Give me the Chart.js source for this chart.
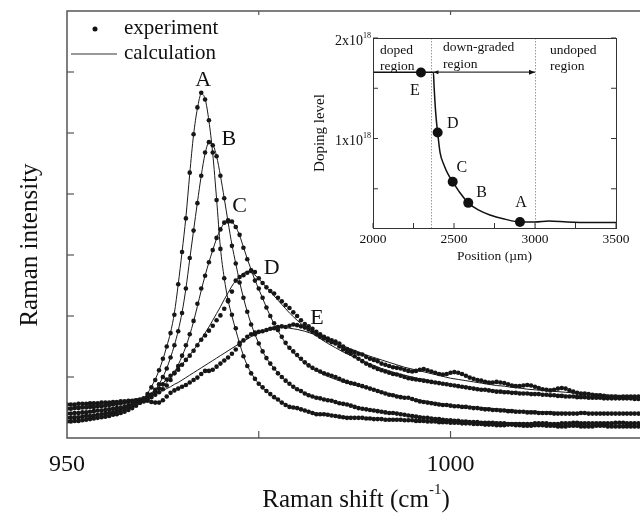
<!DOCTYPE html>
<html>
<head>
<meta charset="utf-8">
<script src="https://cdn.jsdelivr.net/npm/chart.js@4"></script>
<style>
  html, body { margin: 0; padding: 0; background: #fff; overflow: hidden; }
  #wrap { position: relative; width: 644px; height: 515px; }
  #mainChart { position: absolute; left: 0; top: 0; }
  #insetChart { position: absolute; left: 300px; top: 20px; }
</style>
</head>
<body>
<div id="wrap">
  <canvas id="mainChart" width="644" height="515"></canvas>
  <canvas id="insetChart" width="340" height="250"></canvas>
</div>
<script>
// ===== Main spectra: Raman shift (cm-1) vs intensity =====
const shiftFine = [
  950,950.5,951,951.5,952,952.5,953,953.5,954,954.5,
  955,955.5,956,956.5,957,957.5,958,958.5,959,959.5,
  960,960.5,961,961.5,962,962.5,963,963.5,964,964.5,
  965,965.5,966,966.5,967,967.5,968,968.5,969,969.5,
  970,970.5,971,971.5,972,972.5,973,973.5,974,974.5,
  975,975.5,976,976.5,977,977.5,978,978.5,979,979.5,
  980,980.5,981,981.5,982,982.5,983,983.5,984,984.5,
  985,985.5,986,986.5,987,987.5,988,988.5,989,989.5,
  990,990.5,991,991.5,992,992.5,993,993.5,994,994.5,
  995,995.5,996,996.5,997,997.5,998,998.5,999,999.5,
  1000,1000.5,1001,1001.5,1002,1002.5,1003,1003.5,1004,1004.5,
  1005,1005.5,1006,1006.5,1007,1007.5,1008,1008.5,1009,1009.5,
  1010,1010.5,1011,1011.5,1012,1012.5,1013,1013.5,1014,1014.5,
  1015,1015.5,1016,1016.5,1017,1017.5,1018,1018.5,1019,1019.5,
  1020,1020.5,1021,1021.5,1022,1022.5,1023,1023.5,1024,1024.5,
  1025
];

const expA = [
  0.27,0.27,0.28,0.28,0.29,0.30,0.31,0.32,0.33,0.34,
  0.35,0.36,0.38,0.39,0.41,0.43,0.46,0.49,0.53,0.58,
  0.64,0.72,0.83,0.95,1.11,1.30,1.50,1.72,2.02,2.52,
  3.05,3.60,4.35,4.98,5.42,5.66,5.55,5.21,4.68,3.90,
  3.10,2.62,2.26,2.02,1.80,1.56,1.34,1.18,1.06,0.97,
  0.89,0.83,0.77,0.72,0.67,0.63,0.58,0.54,0.51,0.50,
  0.49,0.47,0.45,0.43,0.41,0.39,0.39,0.39,0.38,0.37,
  0.36,0.35,0.34,0.33,0.33,0.33,0.33,0.33,0.32,0.32,
  0.31,0.31,0.31,0.30,0.30,0.30,0.30,0.30,0.29,0.29,
  0.29,0.28,0.28,0.28,0.27,0.27,0.27,0.26,0.26,0.26,
  0.25,0.25,0.25,0.24,0.24,0.24,0.23,0.23,0.23,0.22,
  0.22,0.22,0.21,0.21,0.21,0.22,0.22,0.21,0.21,0.20,
  0.20,0.20,0.21,0.21,0.21,0.20,0.20,0.20,0.19,0.19,
  0.19,0.20,0.20,0.20,0.19,0.19,0.19,0.19,0.20,0.20,
  0.20,0.19,0.19,0.19,0.19,0.19,0.19,0.19,0.19,0.19,
  0.19
];
const expB = [
  0.33,0.33,0.34,0.34,0.35,0.36,0.36,0.37,0.38,0.39,
  0.40,0.41,0.42,0.44,0.46,0.48,0.50,0.53,0.55,0.58,
  0.61,0.66,0.71,0.79,0.88,1.00,1.14,1.32,1.52,1.75,
  2.05,2.45,2.95,3.40,3.85,4.30,4.68,4.85,4.80,4.62,
  4.30,3.93,3.55,3.15,2.86,2.55,2.30,2.07,1.86,1.70,
  1.55,1.42,1.31,1.22,1.14,1.06,1.00,0.94,0.89,0.84,
  0.80,0.77,0.73,0.70,0.68,0.66,0.65,0.63,0.62,0.61,
  0.59,0.57,0.56,0.55,0.53,0.51,0.49,0.48,0.47,0.46,
  0.45,0.44,0.43,0.42,0.41,0.41,0.40,0.39,0.38,0.37,
  0.36,0.35,0.34,0.33,0.33,0.32,0.31,0.31,0.30,0.29,
  0.29,0.28,0.28,0.27,0.27,0.26,0.26,0.26,0.25,0.25,
  0.25,0.25,0.24,0.24,0.24,0.23,0.23,0.23,0.23,0.23,
  0.23,0.23,0.24,0.24,0.24,0.24,0.23,0.23,0.23,0.24,
  0.24,0.24,0.25,0.25,0.24,0.24,0.24,0.24,0.24,0.24,
  0.24,0.24,0.24,0.25,0.25,0.25,0.24,0.24,0.24,0.24,
  0.24
];
const expC = [
  0.40,0.40,0.41,0.41,0.42,0.42,0.43,0.44,0.45,0.45,
  0.46,0.47,0.48,0.49,0.50,0.51,0.53,0.54,0.56,0.58,
  0.60,0.63,0.67,0.71,0.75,0.80,0.86,0.95,1.06,1.18,
  1.35,1.52,1.70,1.92,2.20,2.45,2.66,2.88,3.08,3.28,
  3.42,3.53,3.57,3.55,3.46,3.33,3.12,2.93,2.74,2.58,
  2.45,2.30,2.14,2.00,1.88,1.77,1.66,1.56,1.48,1.42,
  1.36,1.30,1.24,1.19,1.15,1.12,1.09,1.06,1.04,1.02,
  1.00,0.97,0.94,0.92,0.90,0.89,0.87,0.85,0.83,0.81,
  0.79,0.77,0.75,0.73,0.71,0.70,0.68,0.67,0.66,0.66,
  0.64,0.62,0.60,0.59,0.58,0.57,0.56,0.55,0.54,0.54,
  0.53,0.52,0.52,0.51,0.51,0.50,0.49,0.49,0.48,0.47,
  0.47,0.46,0.46,0.45,0.45,0.44,0.44,0.43,0.43,0.43,
  0.42,0.42,0.42,0.41,0.41,0.41,0.41,0.40,0.40,0.40,
  0.40,0.40,0.40,0.40,0.41,0.41,0.40,0.40,0.40,0.40,
  0.40,0.40,0.40,0.40,0.40,0.40,0.40,0.40,0.40,0.40,
  0.40
];
const expD = [
  0.48,0.48,0.49,0.49,0.50,0.50,0.51,0.51,0.52,0.52,
  0.53,0.54,0.55,0.56,0.57,0.58,0.59,0.60,0.61,0.63,
  0.65,0.68,0.71,0.75,0.81,0.88,0.96,1.02,1.07,1.12,
  1.20,1.28,1.35,1.43,1.52,1.61,1.68,1.76,1.84,1.93,
  2.01,2.12,2.24,2.40,2.58,2.64,2.67,2.71,2.75,2.72,
  2.62,2.54,2.47,2.41,2.37,2.30,2.24,2.18,2.13,2.06,
  2.00,1.93,1.87,1.83,1.79,1.74,1.70,1.66,1.60,1.57,
  1.55,1.50,1.45,1.41,1.38,1.34,1.30,1.26,1.22,1.19,
  1.16,1.13,1.11,1.09,1.07,1.05,1.04,1.02,1.00,0.98,
  0.97,0.96,0.95,0.94,0.93,0.92,0.91,0.90,0.89,0.88,
  0.87,0.86,0.85,0.84,0.83,0.82,0.81,0.80,0.79,0.79,
  0.78,0.77,0.76,0.76,0.75,0.75,0.74,0.74,0.73,0.73,
  0.73,0.72,0.72,0.72,0.71,0.71,0.70,0.70,0.69,0.69,
  0.68,0.68,0.68,0.67,0.67,0.67,0.66,0.66,0.66,0.66,
  0.65,0.65,0.65,0.65,0.65,0.65,0.65,0.65,0.64,0.64,
  0.64
];
const expE = [
  0.55,0.55,0.55,0.56,0.56,0.56,0.57,0.57,0.57,0.58,
  0.58,0.58,0.59,0.59,0.60,0.60,0.61,0.61,0.62,0.62,
  0.62,0.61,0.59,0.58,0.58,0.62,0.68,0.74,0.78,0.81,
  0.84,0.87,0.91,0.95,0.99,1.05,1.10,1.10,1.12,1.17,
  1.22,1.27,1.32,1.38,1.45,1.53,1.60,1.66,1.70,1.73,
  1.74,1.75,1.77,1.79,1.80,1.82,1.83,1.82,1.84,1.86,
  1.85,1.83,1.81,1.78,1.74,1.70,1.66,1.63,1.63,1.60,
  1.58,1.55,1.50,1.46,1.43,1.41,1.38,1.37,1.33,1.30,
  1.28,1.26,1.22,1.20,1.18,1.16,1.15,1.14,1.12,1.10,
  1.09,1.10,1.12,1.13,1.11,1.09,1.07,1.05,1.04,1.05,
  1.07,1.08,1.07,1.05,1.02,0.99,0.97,0.95,0.94,0.92,
  0.91,0.91,0.92,0.91,0.90,0.88,0.86,0.85,0.85,0.86,
  0.87,0.86,0.84,0.82,0.80,0.79,0.78,0.79,0.81,0.82,
  0.81,0.78,0.76,0.74,0.73,0.73,0.72,0.71,0.70,0.70,
  0.69,0.68,0.68,0.68,0.67,0.68,0.68,0.68,0.68,0.68,
  0.68
];

// calculation curves: coarser grid, finer around the peaks
const calcShift = [
  950,951,952,953,954,955,956,957,958,959,960,
  960.5,961,961.5,962,962.5,963,963.5,964,964.5,965,
  965.5,966,966.5,967,967.5,968,968.5,969,969.5,970,
  970.5,971,971.5,972,972.5,973,973.5,974,974.5,975,
  975.5,976,976.5,977,977.5,978,978.5,979,979.5,980,
  981,982,983,984,985,986,987,988,989,990,
  991,992,993,994,995,996,997,998,999,1000,
  1001,1002,1003,1004,1005,1006,1007,1008,1009,1010,
  1011,1012,1013,1014,1015,1016,1017,1018,1019,1020,
  1021,1022,1023,1024,1025
];
const calcA = [
  0.27,0.28,0.29,0.31,0.33,0.35,0.38,0.41,0.46,0.53,0.64,
  0.73,0.84,0.96,1.11,1.29,1.50,1.73,2.05,2.52,3.05,
  3.62,4.33,4.97,5.40,5.64,5.56,5.20,4.66,3.92,3.12,
  2.62,2.26,2.00,1.77,1.55,1.35,1.19,1.07,0.97,0.89,
  0.82,0.76,0.71,0.66,0.62,0.58,0.55,0.52,0.50,0.48,
  0.45,0.42,0.40,0.38,0.36,0.35,0.34,0.33,0.32,0.31,
  0.31,0.30,0.30,0.29,0.29,0.28,0.28,0.27,0.27,0.26,
  0.25,0.25,0.24,0.24,0.23,0.23,0.22,0.22,0.22,0.21,
  0.21,0.21,0.21,0.20,0.20,0.20,0.20,0.20,0.20,0.19,
  0.19,0.19,0.19,0.19,0.19
];
const calcB = [
  0.33,0.34,0.35,0.36,0.38,0.40,0.42,0.46,0.50,0.55,0.61,
  0.66,0.72,0.79,0.88,1.00,1.14,1.32,1.52,1.76,2.06,
  2.45,2.93,3.40,3.86,4.30,4.66,4.84,4.81,4.62,4.30,
  3.93,3.54,3.17,2.86,2.56,2.30,2.07,1.87,1.70,1.55,
  1.42,1.31,1.22,1.14,1.07,1.00,0.94,0.89,0.84,0.80,
  0.74,0.69,0.66,0.62,0.59,0.56,0.53,0.50,0.47,0.45,
  0.43,0.41,0.40,0.38,0.36,0.35,0.33,0.32,0.31,0.30,
  0.29,0.28,0.27,0.27,0.26,0.26,0.25,0.25,0.25,0.24,
  0.24,0.24,0.24,0.24,0.24,0.24,0.24,0.24,0.24,0.24,
  0.24,0.24,0.24,0.24,0.24
];
const calcC = [
  0.40,0.41,0.42,0.43,0.45,0.46,0.48,0.50,0.53,0.56,0.60,
  0.64,0.68,0.73,0.78,0.84,0.91,0.99,1.08,1.20,1.34,
  1.50,1.69,1.91,2.16,2.42,2.66,2.88,3.08,3.27,3.42,
  3.52,3.56,3.54,3.46,3.32,3.13,2.94,2.76,2.59,2.44,
  2.29,2.14,2.00,1.87,1.76,1.65,1.55,1.47,1.40,1.34,
  1.23,1.14,1.07,1.01,0.96,0.92,0.88,0.85,0.82,0.79,
  0.76,0.73,0.70,0.67,0.64,0.62,0.60,0.58,0.56,0.54,
  0.53,0.52,0.51,0.50,0.49,0.48,0.47,0.46,0.45,0.44,
  0.44,0.43,0.43,0.42,0.42,0.41,0.41,0.41,0.41,0.40,
  0.40,0.40,0.40,0.40,0.40
];
const calcD = [
  0.48,0.49,0.50,0.51,0.52,0.53,0.55,0.57,0.59,0.62,0.66,
  0.70,0.74,0.79,0.84,0.90,0.96,1.02,1.08,1.14,1.21,
  1.28,1.36,1.44,1.53,1.62,1.72,1.82,1.93,2.04,2.15,
  2.27,2.38,2.49,2.58,2.65,2.70,2.72,2.71,2.67,2.61,
  2.54,2.47,2.40,2.33,2.26,2.19,2.12,2.05,1.99,1.93,
  1.82,1.72,1.63,1.55,1.48,1.41,1.35,1.29,1.24,1.19,
  1.14,1.10,1.06,1.03,1.00,0.97,0.95,0.92,0.90,0.88,
  0.86,0.84,0.82,0.81,0.79,0.78,0.77,0.76,0.75,0.74,
  0.73,0.72,0.71,0.71,0.70,0.69,0.69,0.68,0.68,0.67,
  0.67,0.66,0.66,0.66,0.65
];
const calcE = [
  0.50,0.51,0.52,0.53,0.54,0.56,0.58,0.60,0.62,0.64,0.66,
  0.67,0.69,0.72,0.75,0.78,0.81,0.84,0.88,0.91,0.95,
  0.99,1.03,1.07,1.11,1.15,1.19,1.23,1.27,1.31,1.35,
  1.39,1.43,1.47,1.51,1.55,1.59,1.62,1.66,1.69,1.72,
  1.74,1.76,1.78,1.79,1.80,1.81,1.81,1.80,1.79,1.78,
  1.75,1.71,1.66,1.61,1.56,1.51,1.46,1.41,1.36,1.32,
  1.28,1.24,1.20,1.16,1.13,1.10,1.07,1.04,1.01,0.98,
  0.96,0.94,0.92,0.90,0.88,0.86,0.85,0.83,0.82,0.80,
  0.79,0.78,0.77,0.76,0.75,0.74,0.73,0.72,0.72,0.71,
  0.70,0.70,0.69,0.69,0.68
];

const curveNames = ['A', 'B', 'C', 'D', 'E'];
const curveLabelShift = [967.75, 971.1, 972.5, 976.7, 982.6];
const curveLabelLevel = [5.87, 4.89, 3.80, 2.79, 1.97];
const shiftTickLabels = [950, 1000];
const shiftTicks = [975, 1000];
const intensityTicks = [1, 2, 3, 4, 5, 6];

// ===== Inset: doping profile =====
const samplePos = [2296, 2399, 2492, 2588, 2907];
const sampleLevel = [1.657, 1.06, 0.57, 0.36, 0.17];
const sampleNames = ['E', 'D', 'C', 'B', 'A'];
const sampleLabelPos = [2259, 2492, 2548, 2671, 2914];
const sampleLabelLevel = [1.47, 1.15, 0.71, 0.46, 0.36];
const profilePos = [2000, 2373, 2377, 2383, 2390, 2399, 2414, 2440, 2465, 2492, 2537, 2588, 2650, 2722, 2810, 2907, 3000, 3086, 3200, 3350, 3500];
const profileLevel = [1.66, 1.66, 1.52, 1.35, 1.20, 1.06, 0.86, 0.73, 0.64, 0.57, 0.46, 0.36, 0.29, 0.24, 0.20, 0.17, 0.17, 0.18, 0.17, 0.165, 0.165];
const regionBounds = [2360, 3000];
const positionTicks = [2000, 2500, 3000, 3500];
const positionMinorTicks = [2250, 2750, 3250];
const levelTicks = [1, 2];
const levelMinorTicks = [0.5, 1.5];

const SERIF = '"Liberation Serif", "Times New Roman", serif';
const pts = (xs, ys) => xs.map((x, i) => ({ x: x, y: ys[i] }));

function line(ctx, x1, y1, x2, y2) {
  ctx.beginPath();
  ctx.moveTo(x1, y1);
  ctx.lineTo(x2, y2);
  ctx.stroke();
}

// text with a superscript part, e.g. cm^-1
function supText(ctx, base, sup, tail, x, y, size, supSize, align) {
  ctx.font = size + 'px ' + SERIF;
  const w1 = ctx.measureText(base).width;
  const w3 = ctx.measureText(tail).width;
  ctx.font = supSize + 'px ' + SERIF;
  const w2 = ctx.measureText(sup).width;
  const total = w1 + w2 + w3;
  let x0 = x;
  if (align === 'center') x0 = x - total / 2;
  if (align === 'right') x0 = x - total;
  ctx.textAlign = 'left';
  ctx.textBaseline = 'middle';
  ctx.font = size + 'px ' + SERIF;
  ctx.fillText(base, x0, y);
  ctx.font = supSize + 'px ' + SERIF;
  ctx.fillText(sup, x0 + w1, y - size * 0.38);
  ctx.font = size + 'px ' + SERIF;
  ctx.fillText(tail, x0 + w1 + w2, y);
}

const mainDecor = {
  id: 'mainDecor',
  afterDraw(chart) {
    const ctx = chart.ctx, a = chart.chartArea;
    const x = chart.scales.x, y = chart.scales.y;
    ctx.save();
    ctx.strokeStyle = '#555';
    ctx.lineWidth = 1.5;
    ctx.beginPath();
    ctx.moveTo(a.right, a.top);
    ctx.lineTo(a.left, a.top);
    ctx.lineTo(a.left, a.bottom);
    ctx.lineTo(a.right, a.bottom);
    ctx.stroke();

    ctx.lineWidth = 1.2;
    intensityTicks.forEach(v => {
      const py = y.getPixelForValue(v);
      line(ctx, a.left, py, a.left + 7, py);
    });
    shiftTicks.forEach(v => {
      const px = x.getPixelForValue(v);
      line(ctx, px, a.bottom, px, a.bottom - 7);
      line(ctx, px, a.top, px, a.top + 4);
    });

    ctx.fillStyle = '#111';
    ctx.textAlign = 'center';
    ctx.textBaseline = 'middle';
    ctx.font = '24px ' + SERIF;
    shiftTickLabels.forEach(v => {
      ctx.fillText(String(v), x.getPixelForValue(v), 465);
    });

    supText(ctx, 'Raman shift (cm', '-1', ')', 356, 500, 25, 15, 'center');

    ctx.save();
    ctx.translate(30, 245);
    ctx.rotate(-Math.PI / 2);
    ctx.font = '25px ' + SERIF;
    ctx.textAlign = 'center';
    ctx.textBaseline = 'middle';
    ctx.fillText('Raman intensity', 0, 0);
    ctx.restore();

    // legend
    ctx.beginPath();
    ctx.arc(95, 29, 2.5, 0, Math.PI * 2);
    ctx.fill();
    ctx.strokeStyle = '#333';
    ctx.lineWidth = 1;
    line(ctx, 71, 54, 117, 54);
    ctx.font = '21px ' + SERIF;
    ctx.textAlign = 'left';
    ctx.textBaseline = 'middle';
    ctx.fillText('experiment', 124, 28);
    ctx.fillText('calculation', 124, 53);

    // curve letters
    ctx.font = '22px ' + SERIF;
    ctx.textAlign = 'center';
    curveNames.forEach((n, i) => {
      ctx.fillText(n, x.getPixelForValue(curveLabelShift[i]), y.getPixelForValue(curveLabelLevel[i]));
    });
    ctx.restore();
  }
};

const expSeries = [expA, expB, expC, expD, expE];
const calcSeries = [calcA, calcB, calcC, calcD, calcE];
const mainDatasets = [];
calcSeries.forEach((ys, i) => {
  mainDatasets.push({
    label: 'calculation ' + curveNames[i],
    data: pts(calcShift, ys),
    showLine: true,
    borderColor: '#1a1a1a',
    borderWidth: 1,
    pointRadius: 0,
    cubicInterpolationMode: 'monotone'
  });
});
expSeries.forEach((ys, i) => {
  mainDatasets.push({
    label: 'experiment ' + curveNames[i],
    data: pts(shiftFine, ys),
    showLine: false,
    pointRadius: 2.3,
    pointBorderWidth: 0,
    backgroundColor: '#151515'
  });
});

new Chart(document.getElementById('mainChart').getContext('2d'), {
  type: 'scatter',
  data: { datasets: mainDatasets },
  options: {
    responsive: false,
    animation: false,
    devicePixelRatio: 1,
    layout: { padding: { left: 67, top: 11, right: 0, bottom: 77 } },
    plugins: { legend: { display: false }, tooltip: { enabled: false } },
    scales: {
      x: { type: 'linear', display: false, min: 950, max: 1024.7 },
      y: { display: false, min: 0, max: 7 }
    }
  },
  plugins: [mainDecor]
});

// ===== Inset chart =====
const insetDecor = {
  id: 'insetDecor',
  beforeDatasetsDraw(chart) {
    const ctx = chart.ctx, a = chart.chartArea, x = chart.scales.x;
    ctx.save();
    ctx.strokeStyle = '#999';
    ctx.lineWidth = 1;
    ctx.setLineDash([1.5, 1.5]);
    regionBounds.forEach(v => {
      const px = Math.round(x.getPixelForValue(v)) + 0.5;
      line(ctx, px, a.top, px, a.bottom);
    });
    ctx.restore();
  },
  afterDraw(chart) {
    const ctx = chart.ctx, a = chart.chartArea;
    const x = chart.scales.x, y = chart.scales.y;
    ctx.save();
    ctx.strokeStyle = '#333';
    ctx.lineWidth = 1;
    ctx.strokeRect(a.left + 0.5, a.top + 0.5, a.right - a.left, a.bottom - a.top);

    // ticks, inward
    positionTicks.concat(positionMinorTicks).forEach(v => {
      const px = x.getPixelForValue(v);
      line(ctx, px, a.bottom, px, a.bottom - 5);
    });
    levelTicks.concat(levelMinorTicks).forEach(v => {
      const py = y.getPixelForValue(v);
      line(ctx, a.left, py, a.left + 5, py);
      line(ctx, a.right, py, a.right - 5, py);
    });

    // arrow across the down-graded region
    const ay = y.getPixelForValue(profileLevel[0]);
    const ax1 = x.getPixelForValue(profilePos[1]);
    const ax2 = x.getPixelForValue(regionBounds[1]);
    ctx.lineWidth = 1.2;
    line(ctx, ax1, ay, ax2, ay);
    ctx.fillStyle = '#111';
    ctx.beginPath();
    ctx.moveTo(ax2, ay); ctx.lineTo(ax2 - 6, ay - 2.5); ctx.lineTo(ax2 - 6, ay + 2.5);
    ctx.closePath(); ctx.fill();
    ctx.beginPath();
    ctx.moveTo(ax1, ay); ctx.lineTo(ax1 + 5, ay - 2); ctx.lineTo(ax1 + 5, ay + 2);
    ctx.closePath(); ctx.fill();

    ctx.fillStyle = '#111';
    ctx.textBaseline = 'middle';
    ctx.textAlign = 'center';
    ctx.font = '13.5px ' + SERIF;
    positionTicks.forEach(v => ctx.fillText(String(v), x.getPixelForValue(v), a.bottom + 11));
    ctx.fillText('Position (\u00b5m)', (a.left + a.right) / 2, a.bottom + 28);

    levelTicks.forEach(v => {
      supText(ctx, v + 'x10', '18', '', a.left - 2, y.getPixelForValue(v) + 3, 14, 8, 'right');
    });

    ctx.save();
    ctx.translate(20, (a.top + a.bottom) / 2);
    ctx.rotate(-Math.PI / 2);
    ctx.font = '15px ' + SERIF;
    ctx.textAlign = 'center';
    ctx.textBaseline = 'middle';
    ctx.fillText('Doping level', 0, 0);
    ctx.restore();

    // region captions
    ctx.font = '13.5px ' + SERIF;
    ctx.textAlign = 'left';
    ctx.fillText('doped', 80, 30);
    ctx.fillText('region', 80, 46);
    ctx.fillText('down-graded', 143, 27);
    ctx.fillText('region', 143, 44);
    ctx.fillText('undoped', 250, 30);
    ctx.fillText('region', 250, 46);

    // sample letters
    ctx.font = '16px ' + SERIF;
    ctx.textAlign = 'center';
    sampleNames.forEach((n, i) => {
      ctx.fillText(n, x.getPixelForValue(sampleLabelPos[i]), y.getPixelForValue(sampleLabelLevel[i]));
    });
    ctx.restore();
  }
};

new Chart(document.getElementById('insetChart').getContext('2d'), {
  type: 'scatter',
  data: {
    datasets: [
      {
        label: 'samples',
        data: pts(samplePos, sampleLevel),
        showLine: false,
        pointRadius: 5,
        pointBorderWidth: 0,
        backgroundColor: '#111'
      },
      {
        label: 'profile',
        data: pts(profilePos, profileLevel),
        showLine: true,
        borderColor: '#111',
        borderWidth: 1.5,
        pointRadius: 0,
        cubicInterpolationMode: 'monotone'
      }
    ]
  },
  options: {
    responsive: false,
    animation: false,
    devicePixelRatio: 1,
    layout: { padding: { left: 73, top: 18, right: 24, bottom: 42 } },
    plugins: { legend: { display: false }, tooltip: { enabled: false } },
    scales: {
      x: { type: 'linear', display: false, min: 2000, max: 3500 },
      y: { display: false, min: 0.11, max: 2 }
    }
  },
  plugins: [insetDecor]
});
</script>
</body>
</html>
